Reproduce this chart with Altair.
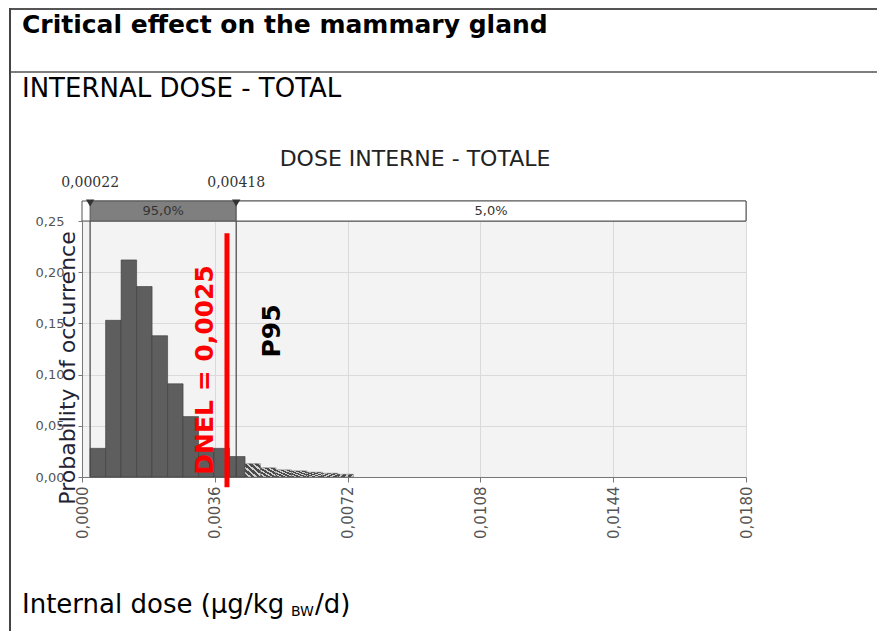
import altair as alt
import pandas as pd

# ---- data ----
bin_lo = [0.00022, 0.00064, 0.00106, 0.00148, 0.00190, 0.00232, 0.00274, 0.00316, 0.00358,
          0.00400, 0.00442, 0.00484, 0.00526, 0.00568, 0.00610, 0.00652, 0.00694]
bin_hi = [0.00064, 0.00106, 0.00148, 0.00190, 0.00232, 0.00274, 0.00316, 0.00358, 0.00400,
          0.00442, 0.00484, 0.00526, 0.00568, 0.00610, 0.00652, 0.00694, 0.00736]
prob = [0.028, 0.153, 0.212, 0.186, 0.138, 0.091, 0.059, 0.028, 0.028,
        0.020, 0.013, 0.009, 0.007, 0.006, 0.0047, 0.0037, 0.0027]
tail = [False] * 10 + [True] * 7

x_ticks = [0.0, 0.0036, 0.0072, 0.0108, 0.0144, 0.0180]
y_ticks = [0.0, 0.05, 0.10, 0.15, 0.20, 0.25]

pct_values = [0.00022, 0.00418]
pct_labels = ["0,00022", "0,00418"]
range_start = [0.0, 0.00022, 0.00418]
range_end = [0.018, 0.00418, 0.018]
range_text = ["", "95,0%", "5,0%"]

dnel_x = 0.00393
dnel_top = 0.238
dnel_bottom = -0.010

title_main = "Critical effect on the mammary gland"
title_sub = "INTERNAL DOSE - TOTAL"
chart_title = "DOSE INTERNE - TOTALE"
y_title = "Probability of occurrence"
dnel_label = "DNEL = 0,0025"
p95_label = "P95"

W, H = 664, 256

df = pd.DataFrame({"lo": bin_lo, "hi": bin_hi, "p": prob, "tail": tail, "z": [0.0] * len(prob)})
xs = alt.Scale(domain=[0, 0.018], nice=False, zero=False)
ys = alt.Scale(domain=[0, 0.25], nice=False)

xaxis = alt.Axis(values=x_ticks, labelExpr="replace(format(datum.value, '.4f'), '.', ',')",
                 labelAngle=270, title=None, grid=True, gridColor="#dadada",
                 domainColor="#777", tickColor="#777", tickSize=5, labelPadding=4,
                 labelFont="DejaVu Sans", labelFontSize=15, labelColor="#555")
yaxis = alt.Axis(values=y_ticks, labelExpr="replace(format(datum.value, '.2f'), '.', ',')",
                 title=None, grid=True, gridColor="#dadada",
                 domainColor="#777", tickColor="#777", tickSize=4, labelPadding=14,
                 labelFont="DejaVu Sans", labelFontSize=13, labelColor="#555")

base = alt.Chart(df)

solid = base.transform_filter("!datum.tail").mark_bar(
    fill="#5e5e5e", stroke="#3a3a3a", strokeWidth=0.6
).encode(
    x=alt.X("lo:Q", scale=xs, axis=xaxis),
    x2="hi:Q",
    y=alt.Y("p:Q", scale=ys, axis=yaxis),
    y2="z:Q",
)

stops = []
n = 5
for i in range(n):
    a = i / n
    b = a + 0.6 / n
    c = (i + 1) / n
    stops += [alt.GradientStop(offset=a, color="#4a4a4a"), alt.GradientStop(offset=b, color="#4a4a4a"),
              alt.GradientStop(offset=b, color="#cfcfcf"), alt.GradientStop(offset=c, color="#cfcfcf")]
hatch_fill = alt.LinearGradient(gradient="linear", stops=stops, x1=0, y1=1, x2=1, y2=0)

hatched = base.transform_filter("datum.tail").mark_bar(
    fill=hatch_fill, stroke="#555", strokeWidth=0.4
).encode(x=alt.X("lo:Q", scale=xs), x2="hi:Q", y=alt.Y("p:Q", scale=ys), y2="z:Q")

rng = pd.DataFrame({"a": range_start, "b": range_end, "t": range_text,
                    "fillc": ["#ffffff", "#7f7f7f", "#ffffff"]})
rng_bar = alt.Chart(rng).mark_rect(stroke="#555", strokeWidth=1).encode(
    x=alt.X("a:Q", scale=xs), x2="b:Q",
    y=alt.value(-20), y2=alt.value(0),
    fill=alt.Fill("fillc:N", scale=None),
)
rng_txt = alt.Chart(rng).transform_calculate(m="(datum.a + datum.b) / 2").mark_text(
    font="DejaVu Sans", fontSize=13, color="#333", baseline="middle"
).encode(x=alt.X("m:Q", scale=xs), y=alt.value(-10), text="t:N")

pct = pd.DataFrame({"v": pct_values, "lab": pct_labels})
pct_rules = alt.Chart(pct).mark_rule(color="#444", strokeWidth=1.2).encode(
    x=alt.X("v:Q", scale=xs), y=alt.value(-20), y2=alt.value(H))
pct_tri = alt.Chart(pct).mark_point(shape="triangle-down", filled=True, size=70,
                                    color="#333", opacity=1).encode(
    x=alt.X("v:Q", scale=xs), y=alt.value(-18))
pct_txt = alt.Chart(pct).mark_text(font="DejaVu Serif", fontSize=14, color="#333",
                                   baseline="middle").encode(
    x=alt.X("v:Q", scale=xs), y=alt.value(-38), text="lab:N")

dn = pd.DataFrame({"x": [dnel_x], "y1": [dnel_bottom], "y2": [dnel_top]})
dnel_rule = alt.Chart(dn).mark_rule(color="#ff0000", strokeWidth=5).encode(
    x=alt.X("x:Q", scale=xs), y=alt.Y("y1:Q", scale=ys), y2="y2:Q")


def txt(s, x, y, **kw):
    return alt.Chart(pd.DataFrame({"s": [s]})).mark_text(**kw).encode(
        x=alt.value(x), y=alt.value(y), text="s:N")


dnel_txt = txt(dnel_label, 123, 149, angle=270, font="DejaVu Sans", fontWeight="bold",
               fontSize=25, color="#ff0000", align="center", baseline="middle")
p95_txt = txt(p95_label, 190, 110, angle=270, font="DejaVu Sans", fontWeight="bold",
              fontSize=25, color="#000", align="center", baseline="middle")
ytitle = txt(y_title, -14, 147, angle=270, font="DejaVu Sans", fontSize=22,
             color="#222233", align="center", baseline="middle")
ctitle = txt(chart_title, 333, -55, font="DejaVu Sans", fontSize=22, color="#222",
             align="center", baseline="alphabetic")
h1 = txt(title_main, -60, -188, font="DejaVu Sans", fontWeight="bold", fontSize=25,
         color="#000", align="left", baseline="alphabetic")
h2 = txt(title_sub, -60, -124, font="DejaVu Sans", fontSize=26, color="#000",
         align="left", baseline="alphabetic")
xt1 = txt("Internal dose (µg/kg", -60, 392, font="DejaVu Sans", fontSize=26, color="#000",
          align="left", baseline="alphabetic")
xt2 = txt("BW", 209, 395, font="DejaVu Sans", fontSize=14, color="#000",
          align="left", baseline="alphabetic")
xt3 = txt("/d)", 233, 392, font="DejaVu Sans", fontSize=26, color="#000",
          align="left", baseline="alphabetic")


def line(x1, y1, x2, y2, w, c):
    return alt.Chart(pd.DataFrame({"k": [0]})).mark_rule(color=c, strokeWidth=w).encode(
        x=alt.value(x1), x2=alt.value(x2), y=alt.value(y1), y2=alt.value(y2))


top_border = line(-73, -212, 800, -212, 2, "#555")
mid_border = line(-73, -149, 800, -149, 1.5, "#555")
left_border = line(-72, -213, -72, 420, 2, "#444")

chart = alt.layer(
    solid, hatched, pct_rules, rng_bar, rng_txt, pct_tri, pct_txt,
    dnel_rule, dnel_txt, p95_txt, ytitle, ctitle, h1, h2, xt1, xt2, xt3,
    top_border, mid_border, left_border,
).properties(
    width=W, height=H,
    autosize=alt.AutoSizeParams(type="none"),
    padding={"left": 74, "top": 213, "right": 131, "bottom": 154},
).configure_view(fill="#f3f3f3", stroke=None)

chart.save("out.html", embed_options={"renderer": "svg", "actions": False})
